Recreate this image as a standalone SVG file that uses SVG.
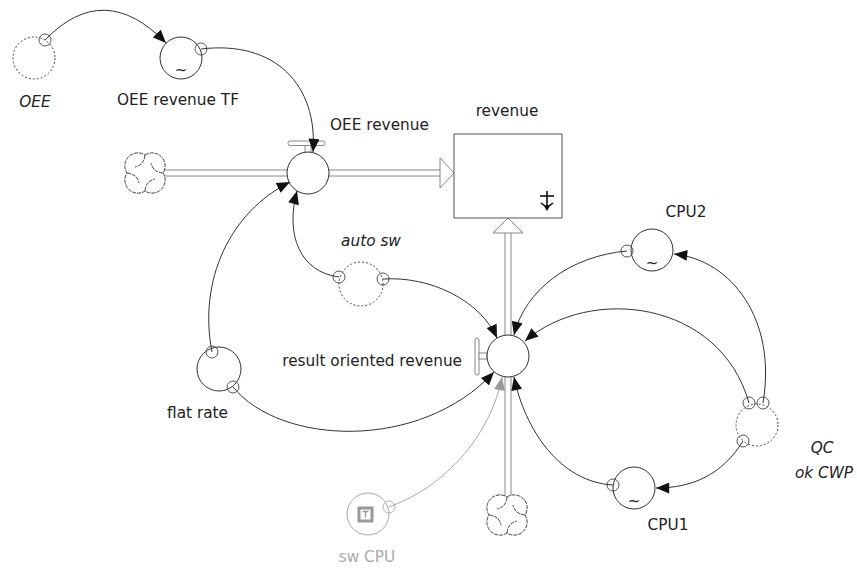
<svg xmlns="http://www.w3.org/2000/svg" width="857" height="570" viewBox="0 0 857 570">
  <style>
    .aux { fill: #fff; stroke: #333; stroke-width: 1; }
    .ghost { fill: #fff; stroke: #444; stroke-width: 1; stroke-dasharray: 2 2; }
    .tap { fill: none; stroke: #444; stroke-width: 0.9; }
    .link { fill: none; stroke: #333; stroke-width: 1; marker-end: url(#ah); }
    .link-dim { fill: none; stroke: #aaa; stroke-width: 1; marker-end: url(#ah-dim); }
    .pipe-o { fill: none; stroke: #888; stroke-width: 7; }
    .pipe-i { fill: none; stroke: #fff; stroke-width: 5; }
    .cloud { fill: none; stroke: #444; stroke-width: 1; stroke-dasharray: 4 1; }
    .lbl { font-family: "DejaVu Sans", "Liberation Sans", sans-serif; font-size: 15.3px; fill: #222; }
    .it { font-style: italic; }
    .mid { text-anchor: middle; }
    .end { text-anchor: end; }
    .dim { fill: #aaa; }
    .tilde { font-family: "DejaVu Sans", sans-serif; font-size: 15px; fill: #222; text-anchor: middle; }
  </style>
  <defs>
    <marker id="ah" viewBox="0 0 12 10" refX="12" refY="5" markerWidth="14" markerHeight="11" markerUnits="userSpaceOnUse" orient="auto">
      <path d="M0,0 L12,5 L0,10 z" fill="#111"/>
    </marker>
    <marker id="ah-dim" viewBox="0 0 12 10" refX="12" refY="5" markerWidth="14" markerHeight="11" markerUnits="userSpaceOnUse" orient="auto">
      <path d="M0,0 L12,5 L0,10 z" fill="#999"/>
    </marker>
    <!-- source/sink cloud, centred on 0,0: four lobes and a pinwheel -->
    <g id="cloudshape">
      <path d="M0,-18 A13,13 0 0 1 18,0 A13,13 0 0 1 0,18 A13,13 0 0 1 -18,0 A13,13 0 0 1 0,-18 Z" fill="#fff" stroke="none"/>
      <path class="cloud" d="M0,-18 A13,13 0 0 1 18,0 A13,13 0 0 1 0,18 A13,13 0 0 1 -18,0 A13,13 0 0 1 0,-18 Z"/>
      <path class="cloud" d="M0,-18 Q-1,-8 -10,-6 M18,0 Q8,-1 6,-10 M0,18 Q1,8 10,6 M-18,0 Q-8,1 -6,10"/>
    </g>
  </defs>

  <!-- flow pipes -->
  <g id="pipes">
    <line class="pipe-o" x1="164" y1="173" x2="441" y2="173"/>
    <line class="pipe-i" x1="164" y1="173" x2="442" y2="173"/>
    <polygon points="440,158 454,173 440,188" fill="#fff" stroke="#888" stroke-width="1"/>
    <line class="pipe-o" x1="508" y1="496" x2="508" y2="232"/>
    <line class="pipe-i" x1="508" y1="497" x2="508" y2="231"/>
    <polygon points="493,233 508,218 523,233" fill="#fff" stroke="#888" stroke-width="1"/>
  </g>

  <g id="cloud-left"><use href="#cloudshape" x="145" y="173"/></g>
  <g id="cloud-bottom"><use href="#cloudshape" x="507" y="515"/></g>

  <g id="oee">
    <circle class="ghost" cx="34" cy="58" r="21"/>
    <circle class="tap" cx="45" cy="40" r="6"/>
    <text class="lbl it mid" x="35" y="107">OEE</text>
  </g>

  <g id="oee-revenue-tf">
    <circle class="aux" cx="181" cy="58" r="21"/>
    <text class="tilde" x="181" y="75">~</text>
    <circle class="tap" cx="201" cy="49" r="6"/>
    <text class="lbl mid" x="178" y="105">OEE revenue TF</text>
  </g>

  <g id="oee-revenue">
    <rect x="288" y="141" width="37" height="4.5" rx="2" fill="#fff" stroke="#888" stroke-width="1"/>
    <rect x="305" y="145.5" width="6" height="7" fill="#fff" stroke="#888" stroke-width="1"/>
    <circle class="aux" cx="308" cy="173" r="21"/>
    <text class="lbl" x="330" y="130">OEE revenue</text>
  </g>

  <g id="revenue">
    <rect x="454" y="134" width="108" height="84" fill="#fff" stroke="#555" stroke-width="1"/>
    <text class="lbl mid" x="507" y="116">revenue</text>
    <g fill="none" stroke="#111" stroke-width="1.6">
      <line x1="540" y1="196" x2="554" y2="196"/>
      <line x1="547" y1="191" x2="547" y2="208"/>
      <path d="M541,203 Q547,209 553,203"/>
    </g>
    <path d="M544,206 L547,211 L550,206 z" fill="#111"/>
  </g>

  <g id="auto-sw">
    <circle class="ghost" cx="361" cy="284" r="22"/>
    <circle class="tap" cx="339" cy="277" r="6"/>
    <circle class="tap" cx="383" cy="279" r="6"/>
    <text class="lbl it mid" x="371" y="246">auto sw</text>
  </g>

  <g id="flat-rate">
    <circle class="aux" cx="219" cy="369" r="22"/>
    <circle class="tap" cx="212" cy="352" r="6"/>
    <circle class="tap" cx="233" cy="387" r="6"/>
    <text class="lbl end" x="228" y="418">flat rate</text>
  </g>

  <g id="result-oriented-revenue">
    <rect x="475" y="338" width="4" height="37" rx="2" fill="#fff" stroke="#888" stroke-width="1"/>
    <rect x="479" y="353" width="8" height="6" fill="#fff" stroke="#888" stroke-width="1"/>
    <circle class="aux" cx="508" cy="356" r="21"/>
    <text class="lbl end" x="462" y="366">result oriented revenue</text>
  </g>

  <g id="cpu2">
    <circle class="aux" cx="652" cy="250" r="21"/>
    <text class="tilde" x="652" y="268">~</text>
    <circle class="tap" cx="627" cy="251" r="6"/>
    <text class="lbl mid" x="686" y="217">CPU2</text>
  </g>

  <g id="cpu1">
    <circle class="aux" cx="634" cy="488" r="21"/>
    <text class="tilde" x="634" y="506">~</text>
    <circle class="tap" cx="613" cy="485" r="6"/>
    <text class="lbl mid" x="668" y="530">CPU1</text>
  </g>

  <g id="qc-ok-cwp">
    <circle class="ghost" cx="757" cy="425" r="21"/>
    <circle class="tap" cx="749" cy="403" r="6"/>
    <circle class="tap" cx="763" cy="403" r="6"/>
    <circle class="tap" cx="743" cy="441" r="6"/>
    <text class="lbl it mid" x="822" y="453">QC</text>
    <text class="lbl it mid" x="824" y="478">ok CWP</text>
  </g>

  <g id="sw-cpu">
    <circle cx="368" cy="514" r="21" fill="#fff" stroke="#aaa" stroke-width="1"/>
    <rect x="359" y="508" width="13" height="13" fill="#fff" stroke="#999" stroke-width="3"/>
    <path d="M362.5,511.5 h6 M365.5,511.5 v6" stroke="#999" stroke-width="1.4" fill="none"/>
    <circle cx="389" cy="507" r="6" fill="none" stroke="#aaa" stroke-width="0.9"/>
    <text class="lbl mid dim" x="367" y="562">sw CPU</text>
  </g>

  <!-- connectors, drawn last so arrowheads sit on top of valve handles -->
  <g id="connectors">
    <path class="link" d="M45,40 Q104,-21 166,43"/>
    <path class="link" d="M201,49 C275,40 318,85 313,152"/>
    <path class="link" d="M339,277 C300,272 285,235 297,191"/>
    <path class="link" d="M212,352 C198,280 230,212 290,182"/>
    <path class="link" d="M383,279 C430,276 480,300 497,338"/>
    <path class="link" d="M233,387 C280,445 420,452 494,372"/>
    <path class="link-dim" d="M389,507 C450,485 492,430 502,377"/>
    <path class="link" d="M613,485 C560,482 525,430 514,377"/>
    <path class="link" d="M743,441 C722,475 692,488 656,488"/>
    <path class="link" d="M763,403 C777,320 732,260 674,254"/>
    <path class="link" d="M749,403 C720,300 590,285 525,341"/>
    <path class="link" d="M627,251 C570,256 525,290 514,335"/>
  </g>
</svg>
